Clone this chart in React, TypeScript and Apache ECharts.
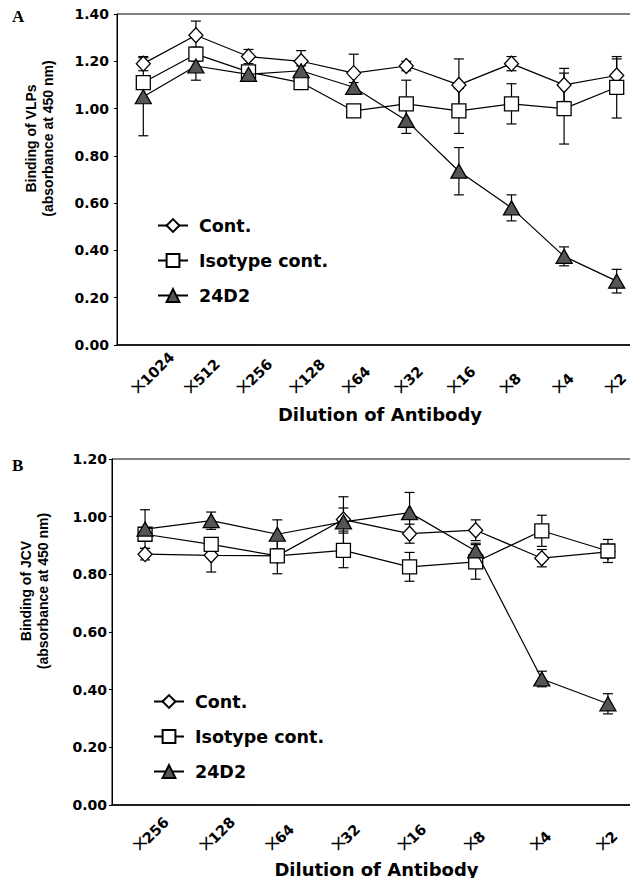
import React, { useEffect, useRef } from "react";
import * as echarts from "echarts";

// Panel A: VLPs
const catsA = ["1024", "512", "256", "128", "64", "32", "16", "8", "4", "2"];
const contA = [1.19, 1.31, 1.22, 1.2, 1.15, 1.18, 1.1, 1.19, 1.1, 1.14];
const contAErr = [0.03, 0.06, 0.03, 0.045, 0.08, 0.02, 0.11, 0.03, 0.07, 0.07];
const isoA = [1.11, 1.23, 1.155, 1.11, 0.99, 1.02, 0.99, 1.02, 1.0, 1.09];
const isoAErr = [0.02, 0.03, 0.02, 0.02, 0.02, 0.1, 0.095, 0.085, 0.15, 0.13];
const d2A = [1.05, 1.18, 1.145, 1.16, 1.09, 0.95, 0.735, 0.58, 0.375, 0.27];
const d2AErr = [0.165, 0.06, 0.02, 0.02, 0.02, 0.055, 0.1, 0.055, 0.04, 0.05];

// Panel B: JCV
const catsB = ["256", "128", "64", "32", "16", "8", "4", "2"];
const contB = [0.87, 0.866, 0.864, 0.99, 0.941, 0.953, 0.856, 0.878];
const contBErr = [0.02, 0.058, 0.02, 0.04, 0.033, 0.036, 0.03, 0.02];
const isoB = [0.939, 0.904, 0.864, 0.883, 0.826, 0.843, 0.951, 0.881];
const isoBErr = [0.02, 0.02, 0.062, 0.06, 0.05, 0.06, 0.054, 0.04];
const d2B = [0.957, 0.986, 0.939, 0.982, 1.014, 0.881, 0.437, 0.351];
const d2BErr = [0.067, 0.03, 0.05, 0.087, 0.07, 0.027, 0.027, 0.035];

const seriesNames = ["Cont.", "Isotype cont.", "24D2"];
const xTitle = "Dilution of Antibody";
const yTitleA = "Binding of VLPs\n(absorbance at 450 nm)";
const yTitleB = "Binding of JCV\n(absorbance at 450 nm)";

const SANS = "DejaVu Sans";
const ARIAL = "Liberation Sans";

function errRender(params: any, api: any) {
  const x = api.value(0);
  const y = api.value(1);
  const e = api.value(2);
  const top = api.coord([x, y + e]);
  const bot = api.coord([x, y - e]);
  const hw = 5;
  const st = { stroke: "#000", lineWidth: 1.2 };
  return {
    type: "group",
    children: [
      { type: "line", shape: { x1: top[0], y1: top[1], x2: bot[0], y2: bot[1] }, style: st },
      { type: "line", shape: { x1: top[0] - hw, y1: top[1], x2: top[0] + hw, y2: top[1] }, style: st },
      { type: "line", shape: { x1: bot[0] - hw, y1: bot[1], x2: bot[0] + hw, y2: bot[1] }, style: st },
    ],
  };
}

const symbolDefs = [
  { symbol: "diamond", symbolSize: [14, 15], fill: "#fff" },
  { symbol: "rect", symbolSize: 14, fill: "#fff" },
  { symbol: "triangle", symbolSize: [16, 14], fill: "#555" },
];

function panelSeries(gi: number, vals: number[][], errs: number[][]) {
  const out: any[] = [];
  vals.forEach((v, k) => {
    out.push({
      type: "custom",
      xAxisIndex: gi * 2,
      yAxisIndex: gi,
      renderItem: errRender,
      encode: { x: 0, y: 1 },
      data: v.map((y, i) => [i, y, errs[k][i]]),
      z: 1,
      silent: true,
    });
  });
  vals.forEach((v, k) => {
    out.push({
      type: "line",
      name: seriesNames[k],
      xAxisIndex: gi * 2,
      yAxisIndex: gi,
      data: v,
      symbol: symbolDefs[k].symbol,
      symbolSize: symbolDefs[k].symbolSize,
      showAllSymbol: true,
      lineStyle: { color: "#000", width: 1.2 },
      itemStyle: { color: symbolDefs[k].fill, borderColor: "#000", borderWidth: 1.3 },
      z: 2 + k,
    });
  });
  return out;
}

function xAxesFor(gi: number, cats: string[], digitMargin: number, plusMargin: number, titleGap: number) {
  return [
    {
      type: "category",
      gridIndex: gi,
      data: cats,
      boundaryGap: true,
      axisLine: { lineStyle: { color: "#000", width: 1.5 } },
      axisTick: { inside: true, length: 7, lineStyle: { color: "#000", width: 1 } },
      axisLabel: {
        interval: 0,
        rotate: 45,
        align: "left",
        verticalAlign: "middle",
        margin: digitMargin,
        color: "#000",
        fontFamily: SANS,
        fontWeight: "bold",
        fontSize: 14.5,
      },
      name: xTitle,
      nameLocation: "middle",
      nameGap: titleGap,
      nameTextStyle: { fontFamily: SANS, fontWeight: "bold", fontSize: 18, color: "#000" },
    },
    {
      type: "category",
      gridIndex: gi,
      data: cats,
      position: "bottom",
      axisLine: { show: false },
      axisTick: { show: false },
      axisLabel: {
        interval: 0,
        margin: plusMargin,
        formatter: () => "{p|+}",
        rich: {
          p: { fontFamily: "Liberation Serif", fontSize: 30, lineHeight: 30, color: "#000", padding: [0, 10, 0, 0] },
        },
      },
    },
  ];
}

function yAxisFor(gi: number, max: number, name: string) {
  return {
    type: "value",
    gridIndex: gi,
    min: 0,
    max,
    interval: 0.2,
    axisLine: { show: true, lineStyle: { color: "#000", width: 1 } },
    axisTick: { show: true, length: 3, lineStyle: { color: "#000" } },
    splitLine: { show: false },
    axisLabel: {
      margin: gi === 0 ? 8 : 5,
      formatter: (v: number) => v.toFixed(2),
      color: "#000",
      fontFamily: SANS,
      fontWeight: "bold",
      fontSize: 14,
    },
    name,
    nameLocation: "middle",
    nameGap: 61,
    nameTextStyle: {
      fontFamily: ARIAL,
      fontWeight: "bold",
      fontSize: 14,
      lineHeight: 17,
      color: "#000",
      padding: [0, 0, 0, 82],
    },
  };
}

function legendFor(left: number, top: number) {
  return {
    orient: "vertical",
    left,
    top,
    padding: 0,
    itemWidth: 30,
    itemHeight: 16,
    itemGap: 8,
    data: seriesNames,
    selectedMode: false,
    textStyle: {
      fontFamily: SANS,
      fontWeight: "bold",
      fontSize: 17.5,
      lineHeight: 17,
      color: "#000",
      padding: [10, 0, 0, 6],
    },
  };
}

const option: any = {
  animation: false,
  backgroundColor: "#fff",
  grid: [
    { left: 117, top: 14, width: 526, height: 331, show: true, borderColor: "#000", borderWidth: 1 },
    { left: 112, top: 459, width: 529, height: 346, show: true, borderColor: "#000", borderWidth: 1 },
  ],
  xAxis: [...xAxesFor(0, catsA, 38, 25, 60), ...xAxesFor(1, catsB, 36, 22, 55)],
  yAxis: [yAxisFor(0, 1.4, yTitleA), yAxisFor(1, 1.2, yTitleB)],
  legend: [legendFor(157, 212), legendFor(153, 688)],
  graphic: [
    { type: "text", left: 12, top: 8, style: { text: "A", font: "bold 17px 'Liberation Serif'", fill: "#000" } },
    { type: "text", left: 12, top: 457, style: { text: "B", font: "bold 17px 'Liberation Serif'", fill: "#000" } },
  ],
  series: [
    ...panelSeries(0, [contA, isoA, d2A], [contAErr, isoAErr, d2AErr]),
    ...panelSeries(1, [contB, isoB, d2B], [contBErr, isoBErr, d2BErr]),
  ],
};

export default function App() {
  const ref = useRef<HTMLDivElement>(null);
  useEffect(() => {
    const chart = echarts.init(ref.current!, null, { renderer: "svg" });
    chart.setOption(option);
    return () => chart.dispose();
  }, []);
  return (
    <div style={{ margin: -8, width: 638, height: 886, overflow: "hidden", background: "#fff" }}>
      <div ref={ref} style={{ width: 700, height: 886 }} />
    </div>
  );
}
